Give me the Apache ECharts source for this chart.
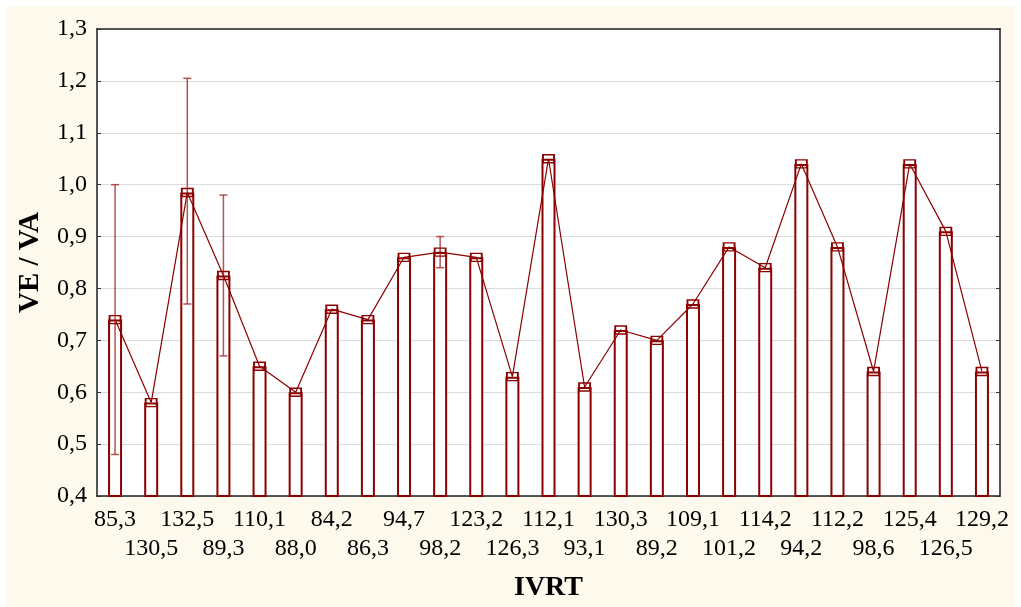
<!DOCTYPE html>
<html>
<head>
<meta charset="utf-8">
<script src="https://cdn.jsdelivr.net/npm/echarts@6/dist/echarts.min.js"></script>
<style>
  html, body { margin: 0; padding: 0; background: #ffffff; width: 1021px; height: 607px; overflow: hidden; }
  #chart { position: absolute; left: 7px; top: 6px; width: 1008px; height: 601px; }
</style>
</head>
<body>
<div id="chart"></div>
<script>
// IVRT groups (x axis categories)
const categories = ['85,3','130,5','132,5','89,3','110,1','88,0','84,2','86,3','94,7','98,2',
  '123,2','126,3','112,1','93,1','130,3','89,2','109,1','101,2','114,2','94,2',
  '112,2','98,6','125,4','126,5','129,2'];
// mean VE / VA per group
const ratioValues = [0.74, 0.58, 0.985, 0.825, 0.65, 0.60, 0.76, 0.74, 0.86, 0.87,
  0.86, 0.63, 1.05, 0.61, 0.72, 0.70, 0.77, 0.88, 0.84, 1.04,
  0.88, 0.64, 1.04, 0.91, 0.64];
// whisker limits (null where a group has no spread)
const errLow  = [0.48, null, 0.77, 0.67, null, null, null, null, null, 0.84,
  null, null, null, null, null, null, null, null, null, null, null, null, null, null, null];
const errHigh = [1.00, null, 1.205, 0.98, null, null, null, null, null, 0.90,
  null, null, null, null, null, null, null, null, null, null, null, null, null, null, null];
// unlabeled tick marks along the top frame
const topTicks = Array.from({ length: 18 }, () => '');

const dark = '#8b0000';
const whisker = 'rgba(165,40,40,0.8)';
const font = '"Liberation Serif", "Times New Roman", serif';

const errData = [];
errLow.forEach((lo, i) => { if (lo !== null) errData.push([i, lo, errHigh[i]]); });

const chart = echarts.init(document.getElementById('chart'), null, { renderer: 'canvas' });
chart.setOption({
  backgroundColor: '#fdf9ed',
  animation: false,
  grid: { left: 90, right: 15, top: 23, bottom: 110, show: true, backgroundColor: '#ffffff', borderWidth: 0 },
  xAxis: [{
    type: 'category',
    data: categories,
    position: 'bottom',
    name: 'IVRT',
    nameLocation: 'middle',
    nameGap: 78,
    nameTextStyle: { fontFamily: font, fontSize: 28, fontWeight: 'bold', color: '#000' },
    axisLine: { lineStyle: { color: '#222', width: 1.5 } },
    axisTick: { inside: true, alignWithLabel: true, length: 3, lineStyle: { color: '#333' } },
    axisLabel: {
      interval: 0, hideOverlap: false, margin: 9,
      fontFamily: font, fontSize: 24, lineHeight: 29, color: '#000',
      formatter: (v, i) => (i % 2 ? '\n' + v : v)
    },
    splitLine: { show: false }
  }, {
    type: 'category',
    data: topTicks,
    position: 'top',
    axisLine: { lineStyle: { color: '#222', width: 1.5 } },
    axisTick: { inside: true, alignWithLabel: true, length: 4, lineStyle: { color: '#333' } },
    axisLabel: { show: false },
    splitLine: { show: false }
  }],
  yAxis: [{
    type: 'value',
    min: 0.4, max: 1.3, interval: 0.1,
    name: 'VE / VA',
    nameLocation: 'middle',
    nameRotate: 90,
    nameGap: 52,
    nameTextStyle: { fontFamily: font, fontSize: 29, fontWeight: 'bold', color: '#000' },
    axisLine: { show: true, lineStyle: { color: '#555', width: 2 } },
    axisTick: { show: true, inside: true, length: 4, lineStyle: { color: '#333' } },
    axisLabel: {
      margin: 10, fontFamily: font, fontSize: 24, color: '#000',
      formatter: v => v.toFixed(1).replace('.', ',')
    },
    splitLine: { show: true, lineStyle: { color: '#dcdcdc', width: 1 } }
  }, {
    type: 'value',
    min: 0.4, max: 1.3, interval: 0.1,
    position: 'right',
    axisLine: { show: true, lineStyle: { color: '#555', width: 2 } },
    axisTick: { show: true, inside: true, length: 4, lineStyle: { color: '#333' } },
    axisLabel: { show: false },
    splitLine: { show: false }
  }],
  series: [{
    type: 'bar',
    data: ratioValues,
    barWidth: 14,
    itemStyle: { color: '#ffffff', borderColor: dark, borderWidth: 2 },
    z: 2
  }, {
    type: 'custom',
    data: errData,
    z: 3,
    renderItem: (params, api) => {
      const x = api.coord([api.value(0), api.value(1)])[0];
      const yLo = api.coord([api.value(0), api.value(1)])[1];
      const yHi = api.coord([api.value(0), api.value(2)])[1];
      const half = 4;
      const style = { stroke: whisker, lineWidth: 1.5 };
      return {
        type: 'group',
        children: [
          { type: 'line', shape: { x1: x, y1: yLo, x2: x, y2: yHi }, style },
          { type: 'line', shape: { x1: x - half, y1: yLo, x2: x + half, y2: yLo }, style },
          { type: 'line', shape: { x1: x - half, y1: yHi, x2: x + half, y2: yHi }, style }
        ]
      };
    }
  }, {
    type: 'line',
    data: ratioValues,
    symbol: 'rect',
    symbolSize: [11, 8],
    lineStyle: { color: dark, width: 1.2 },
    itemStyle: { color: 'rgba(255,255,255,0)', borderColor: dark, borderWidth: 1.6 },
    z: 4
  }]
});
</script>
</body>
</html>
